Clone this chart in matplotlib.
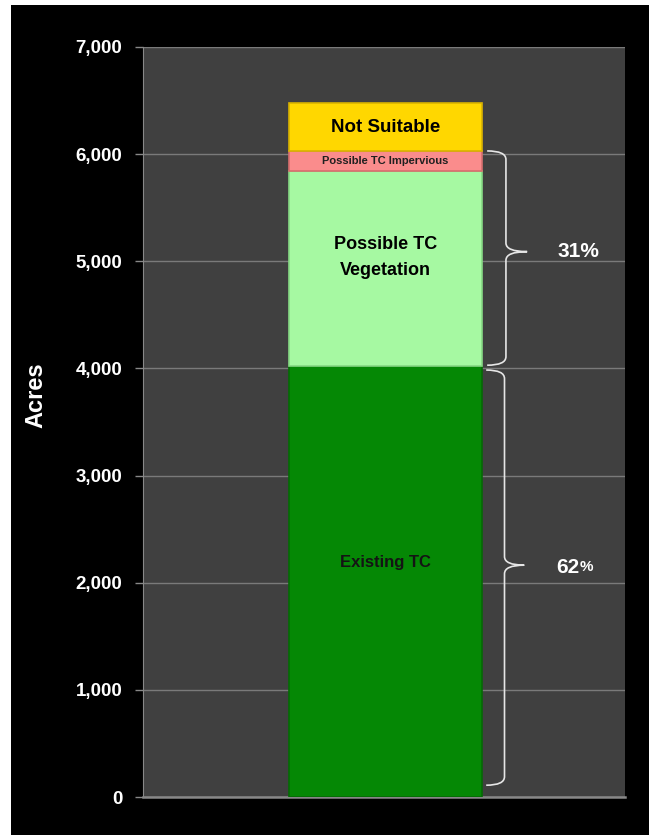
import matplotlib
matplotlib.use('Agg')
from matplotlib import pyplot as plt
from matplotlib.patches import Rectangle, PathPatch
from matplotlib.path import Path
from matplotlib.ticker import FuncFormatter
import matplotlib.transforms as mtransforms

plt.rcParams['font.family'] = ['Liberation Sans', 'DejaVu Sans']
plt.rcParams['font.weight'] = 'bold'

# land cover acres, stacked bottom to top
categories = ['Existing TC', 'Possible TC\nVegetation', 'Possible TC Impervious', 'Not Suitable']
acres = [4020, 1820, 190, 450]
colors = ['#058805', '#a6f9a2', '#fa8c8c', '#ffd700']
edges = ['#046a04', '#86d984', '#d86e6e', '#d9b300']
label_sizes = [12, 13, 8, 13.5]
label_pos = [0.545, 0.56, 0.5, 0.48]
label_colors = ['#141414', '#000000', '#202020', '#000000']
yticks = [0, 1000, 2000, 3000, 4000, 5000, 6000, 7000]

fig = plt.figure(figsize=(6.54, 8.35), dpi=100, facecolor='white')
# black backdrop behind everything
fig.patches.append(Rectangle((11 / 654, 0), 638 / 654, 830 / 835, transform=fig.transFigure,
                             facecolor='black', edgecolor='none', zorder=-10))

ax = fig.add_axes([143 / 654, 38 / 835, 482 / 654, 750 / 835])
ax.set_facecolor('#404040')
ax.set_xlim(-0.5, 0.5)
ax.set_ylim(0, 7000)

bottom = 0
for name, val, c, ec, fs, fp, lc in zip(categories, acres, colors, edges, label_sizes,
                                        label_pos, label_colors):
    ax.bar(0.003, val, width=0.4, bottom=bottom, color=c, edgecolor=ec, linewidth=1.2, zorder=3)
    ax.text(0.003, bottom + val * fp, name, ha='center', va='center', fontsize=fs,
            color=lc, fontweight='bold', zorder=4, linespacing=1.7)
    bottom += val
total = bottom

ax.set_yticks(yticks)
ax.yaxis.set_major_formatter(FuncFormatter(lambda v, p: f'{int(v):,}'))
ax.tick_params(axis='y', colors='#888888', labelcolor='white', labelsize=13.5,
               length=6, width=1, pad=9)
for lbl in ax.get_yticklabels():
    lbl.set_fontweight('bold')
ax.set_xticks([])
ax.grid(axis='y', color='#7a7a7a', linewidth=1, zorder=1)
ax.spines['top'].set_visible(False)
ax.spines['right'].set_visible(False)
ax.spines['left'].set_color('#888888')
ax.spines['bottom'].set_color('#888888')
ax.spines['bottom'].set_linewidth(1.8)
ax.set_ylabel('Acres', color='white', fontsize=17, fontweight='bold')
ax.yaxis.set_label_coords(-0.199, 0.536)

trans = mtransforms.blended_transform_factory(ax.transAxes, ax.transData)


def brace(ytop, ybot, x0, x1, x2, frac=0.5, r=80):
    ymid = ybot + (ytop - ybot) * frac
    verts = [(x0, ytop), (x1, ytop), (x1, ytop - r), (x1, ymid + r), (x1, ymid), (x2, ymid),
             (x2, ymid), (x1, ymid), (x1, ymid - r), (x1, ybot + r), (x1, ybot), (x0, ybot)]
    codes = [Path.MOVETO, Path.CURVE3, Path.CURVE3, Path.LINETO, Path.CURVE3, Path.CURVE3,
             Path.MOVETO, Path.CURVE3, Path.CURVE3, Path.LINETO, Path.CURVE3, Path.CURVE3]
    ax.add_patch(PathPatch(Path(verts, codes), transform=trans, facecolor='none',
                           edgecolor='#e6e6e6', linewidth=1.2, zorder=5, clip_on=False))
    return ymid


# possible tree canopy (vegetation + impervious)
possible = acres[1] + acres[2]
top_possible = acres[0] + possible
ym = brace(top_possible, acres[0] + 10, 0.714, 0.753, 0.797, frac=0.53)
ax.text(0.903, ym, f'{round(possible / total * 100)}%', transform=trans, ha='center',
        va='center', color='white', fontsize=15, fontweight='bold', zorder=5)

# existing tree canopy
ym = brace(acres[0] - 35, 110, 0.712, 0.750, 0.791, frac=0.53)
pct = round(acres[0] / total * 100)
ax.text(0.905, ym - 20, f'{pct}', transform=trans, ha='right', va='center',
        color='white', fontsize=15, fontweight='bold', zorder=5)
ax.text(0.905, ym - 20, '%', transform=trans, ha='left', va='center',
        color='white', fontsize=11, fontweight='bold', zorder=5)

plt.savefig('out.png', dpi=100, facecolor=fig.get_facecolor())
